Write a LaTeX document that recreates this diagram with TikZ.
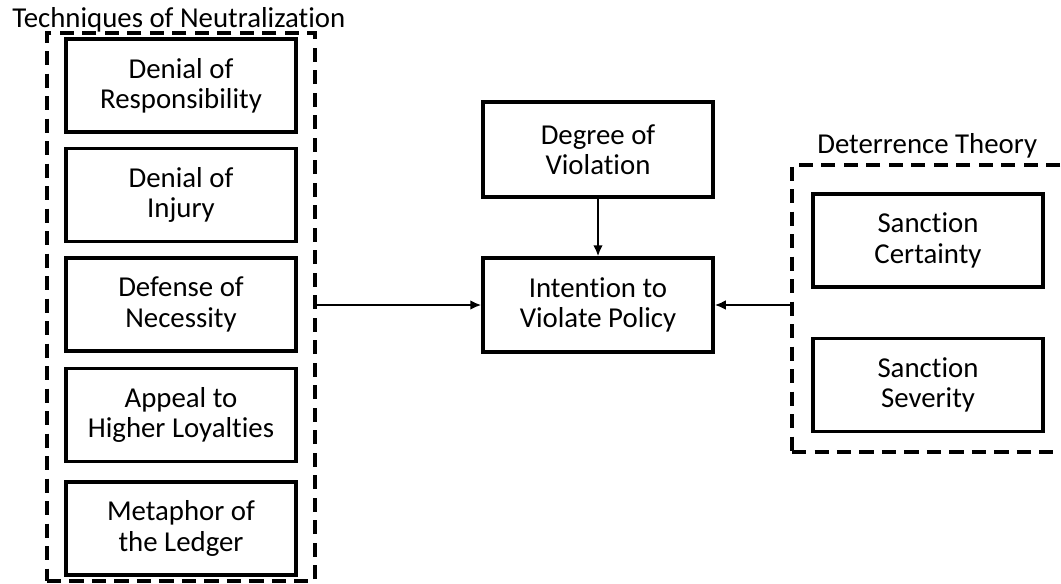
\documentclass[tikz,border=0pt]{standalone}
\usepackage{fontspec}
\setmainfont[Ligatures=NoCommon]{Carlito}
\usetikzlibrary{arrows.meta,positioning}

\begin{document}
\begin{tikzpicture}[
  font=\fontsize{20.5}{21.5}\selectfont,
  box/.style={draw, line width=2.2pt, minimum width=5.75cm, minimum height=2.325cm, align=center, inner sep=0pt},
  group/.style={draw, line width=2.6pt, dash pattern=on 10pt off 6pt, inner sep=0pt},
  heading/.style={anchor=base west, inner sep=0pt},
  >={Latex[length=2.8mm, width=2.4mm]},
  link/.style={->, line width=1.7pt}
]
\clip (0,0) rectangle (26.525,-14.575);

% neutralization techniques
\node[group, minimum width=6.7cm, minimum height=13.7cm] (tn) at (4.525,-7.675) {};
\node[heading] (tnlabel) at (0.3,-0.675) {Techniques of Neutralization};
\node[box] (resp)   at (4.525,-2.1375)  {Denial of\\Responsibility};
\node[box] (injury) at (4.525,-4.875)   {Denial of\\Injury};
\node[box] (necess) at (4.525,-7.6125)  {Defense of\\Necessity};
\node[box] (loyal)  at (4.525,-10.375)  {Appeal to\\Higher Loyalties};
\node[box] (ledger) at (4.525,-13.2125) {Metaphor of\\the Ledger};

% middle
\node[box, minimum height=2.375cm] (degree) at (14.95,-3.7375) {Degree of\\Violation};
\node[box, minimum height=2.35cm]  (intent) at (14.95,-7.625)  {Intention to\\Violate Policy};

% deterrence theory
\node[group, minimum width=7.075cm, minimum height=7.175cm] (dt) at (23.3375,-7.7125) {};
\node[heading] (dtlabel) at (20.425,-3.825) {Deterrence Theory};
\node[box] (certain) at (23.2,-6.0125) {Sanction\\Certainty};
\node[box] (severe)  at (23.2,-9.625)  {Sanction\\Severity};

\draw[link] (degree) -- (intent);
\draw[link] (tn.east |- intent) -- (intent.west);
\draw[link] (dt.west |- intent) -- (intent.east);

\end{tikzpicture}
\end{document}
